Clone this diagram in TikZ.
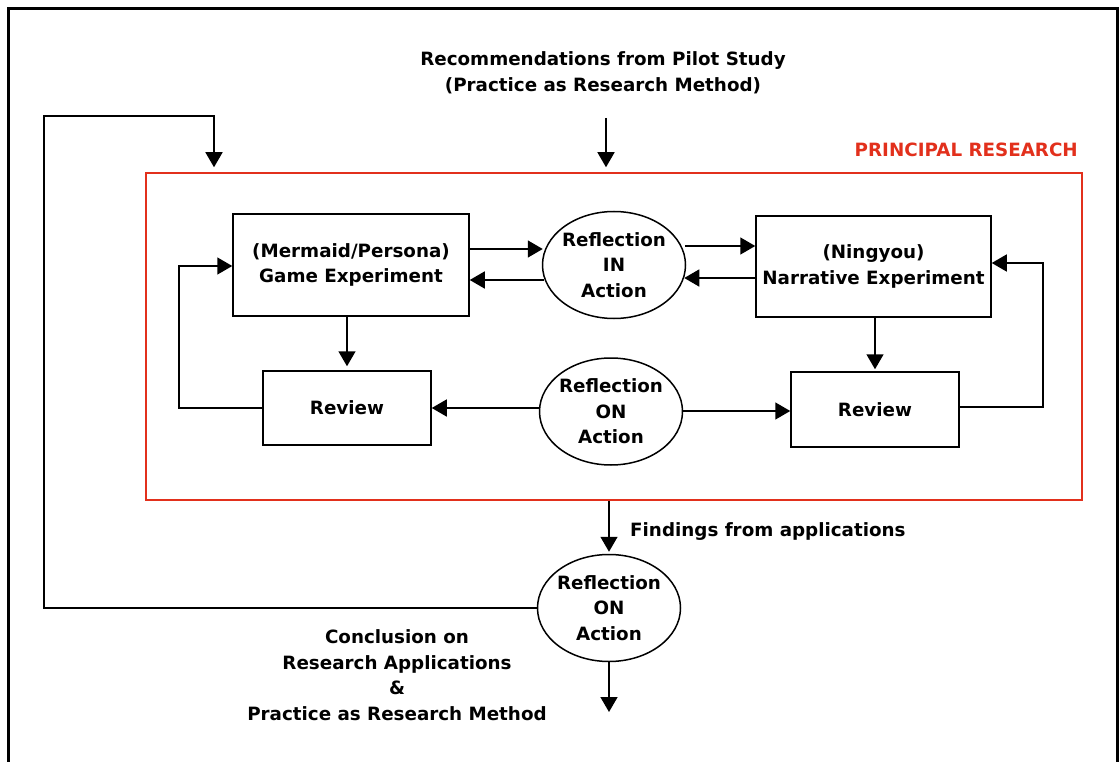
\documentclass[tikz,border=0pt]{standalone}
\usepackage{fontspec}
\setmainfont{DejaVu Sans}
\usetikzlibrary{arrows.meta,shapes.geometric}
\definecolor{prred}{RGB}{226,48,28}
\begin{document}
\begin{tikzpicture}[x=1pt,y=-1pt,
  every node/.style={font=\bfseries\fontsize{18.3}{25.5}\selectfont, align=center, inner sep=0pt},
  stage/.style={draw, line width=1.5pt, minimum width=#1},
  oval/.style={draw, ellipse, line width=1.5pt, inner xsep=-4pt, inner ysep=-4pt, minimum width=143pt, minimum height=107pt},
  flow/.style={line width=1.5pt, -{Triangle[length=15pt,width=17pt]}}]

\useasboundingbox (0,0) rectangle (1119,762);
% outer frame (open at the bottom edge of the page)
\draw[line width=3pt] (8,775) -- (8,9) -- (1117,9) -- (1117,775);

% principal research frame
\node[draw=prred, line width=1.5pt, minimum width=936pt, minimum height=327pt] (principal) at (614,336.5) {};
\node[text=prred, anchor=east] (ptitle) at (1078,150) {PRINCIPAL RESEARCH};

% headline input
\node (rec) at (603,73) {Recommendations from Pilot Study\\(Practice as Research Method)};

% experiments and reviews
\node[stage=236pt, minimum height=102pt] (game) at (351,265) {(Mermaid/Persona)\\Game Experiment};
\node[oval] (rin) at (614,265) {Reflection\\IN\\Action};
\node[stage=235pt, minimum height=101pt] (narr) at (873.5,266.5) {(Ningyou)\\Narrative Experiment};
\node[stage=168pt, minimum height=74pt] (revL) at (347,408) {Review};
\node[oval] (ron) at (611,411.5) {Reflection\\ON\\Action};
\node[stage=168pt, minimum height=75pt] (revR) at (875,409.5) {Review};

% final reflection and outputs
\node[oval] (rfin) at (609,608) {Reflection\\ON\\Action};
\node[anchor=west] (find) at (630,532) {Findings from applications};
\node (concl) at (397,675) {Conclusion on\\Research Applications\\\&\\Practice as Research Method};

% helper coordinates
\coordinate (recfoot) at (606,118);
\coordinate (loopL) at (44,608);
\coordinate (loopTop) at (214,116);
\coordinate (revLturn) at (179,408);
\coordinate (revRturn) at (1043,407);
\coordinate (outTip) at (609,712);

% top inputs
\draw[flow, shorten >=5pt] (recfoot) -- (principal.north -| recfoot);

% reflection in action exchanges
\draw[flow] (game.east |- 0,249) -- ([xshift=1pt]rin.west |- 0,249);
\draw[flow] ([xshift=2pt]rin.west |- 0,280) -- (game.east |- 0,280);
\draw[flow] ([xshift=-1pt]rin.east |- 0,246) -- (narr.west |- 0,246);
\draw[flow] (narr.west |- 0,278) -- ([xshift=-2pt]rin.east |- 0,278);

% down to reviews
\draw[flow, shorten >=4pt] (revL.north |- game.south) -- (revL.north);
\draw[flow, shorten >=2pt] (revR.north |- narr.south) -- (revR.north);

% review feedback loops
\draw[flow] (revL.west) -- (revLturn) |- (game.west |- 0,266);
\draw[flow] (revR.east |- revRturn) -- (revRturn) |- (narr.east |- 0,263);

% reflection on action to reviews
\draw[flow] (ron.west |- 0,408) -- (revL.east |- 0,408);
\draw[flow] (ron.east |- 0,411) -- (revR.west |- 0,411);

% findings and conclusion
\draw[flow, shorten >=2pt] (principal.south -| rfin.north) -- (rfin.north);
\draw[flow] (rfin.south) -- (outTip);
\draw[flow, shorten >=5pt] (rfin.west) -- (loopL) |- (loopTop) -- (principal.north -| loopTop);
\end{tikzpicture}
\end{document}
